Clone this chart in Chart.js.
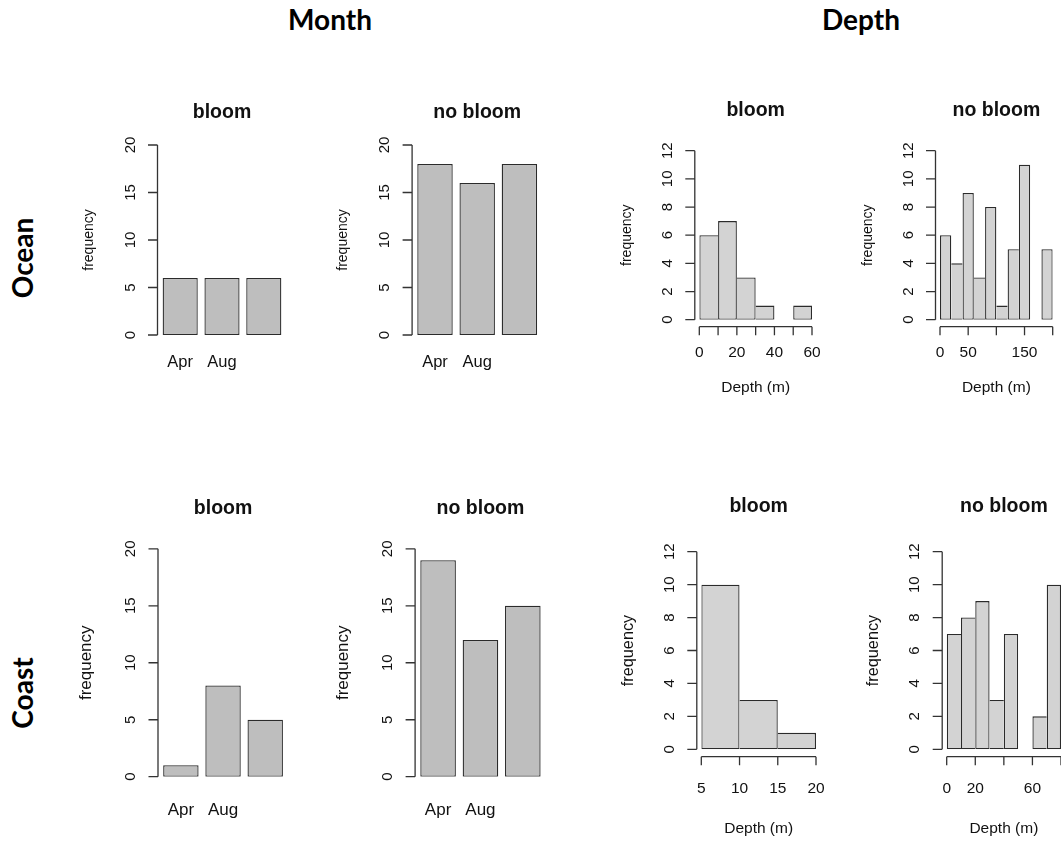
<!DOCTYPE html>
<html>
<head>
<meta charset="utf-8">
<title>bloom frequency by month and depth</title>
<script src="https://cdn.jsdelivr.net/npm/chart.js@4.4.0/dist/chart.umd.min.js"></script>
<style>
    html, body { margin: 0; padding: 0; background: #fff; overflow: hidden; }
    #page { position: relative; width: 1061px; height: 842px; overflow: hidden; }
    #page canvas { position: absolute; left: 0; top: 0; }
    .head { position: absolute; font-family: Lato, "Open Sans", sans-serif; font-weight: 700; font-size: 28px; line-height: 28px; color: #000; white-space: nowrap; }
    .rot { transform: translate(-50%, -50%) rotate(-90deg); }
</style>
</head>
<body>
<div id="page">
    <div class="head" style="left:230px; width:200px; text-align:center; top:5px;">Month</div>
    <div class="head" style="left:761px; width:200px; text-align:center; top:5px;">Depth</div>
    <div class="head rot" style="left:22px; top:258px;">Ocean</div>
    <div class="head rot" style="left:22px; top:693px;">Coast</div>
</div>

<script>
// --- datos ---
const monthLabels = ['Apr', 'Aug', ''];
const monthYTicks = [0, 5, 10, 15, 20];
const depthYTicks = [0, 2, 4, 6, 8, 10, 12];

const oceanBloomMonth = [6, 6, 6];
const oceanNoBloomMonth = [18, 16, 18];
const coastBloomMonth = [1, 8, 5];
const coastNoBloomMonth = [19, 12, 15];

const oceanBloomEdges = [0, 10, 20, 30, 40, 50, 60];
const oceanBloomDepth = [6, 7, 3, 1, 0, 1];
const oceanBloomXTicks = [0, 10, 20, 30, 40, 50, 60];
const oceanBloomXLabels = [0, 20, 40, 60];

const oceanNoBloomEdges = [0, 20, 40, 60, 80, 100, 120, 140, 160, 180, 200];
const oceanNoBloomDepth = [6, 4, 9, 3, 8, 1, 5, 11, 0, 5];
const oceanNoBloomXTicks = [0, 50, 100, 150, 200];
const oceanNoBloomXLabels = [0, 50, 150];

const coastBloomEdges = [5, 10, 15, 20];
const coastBloomDepth = [10, 3, 1];
const coastBloomXTicks = [5, 10, 15, 20];
const coastBloomXLabels = [5, 10, 15, 20];

const coastNoBloomEdges = [0, 10, 20, 30, 40, 50, 60, 70, 80];
const coastNoBloomDepth = [7, 8, 9, 3, 7, 0, 2, 10];
const coastNoBloomXTicks = [0, 20, 40, 60, 80];
const coastNoBloomXLabels = [0, 20, 60];

// --- estilo por fila ---
const rows = {
    ocean: { monthTitle: 118, depthTitle: 116, monthLab: 367, depthTick: 356.7, depthLab: 391.7, xAxisY: 326.7,
             freqMonth: { size: 14, off: 65 }, freqDepth: { size: 14, off: 63.5 }, monthLabSize: 16.5 },
    coast: { monthTitle: 514, depthTitle: 511.7, monthLab: 815, depthTick: 793.3, depthLab: 833.3, xAxisY: 756.7,
             freqMonth: { size: 17, off: 67 }, freqDepth: { size: 16.3, off: 64 }, monthLabSize: 17 }
};

const panels = [
    { row: 'ocean', kind: 'month', title: 'bloom', values: oceanBloomMonth, area: { l: 159.3, r: 284.7, t: 145, b: 335 } },
    { row: 'ocean', kind: 'month', title: 'no bloom', values: oceanNoBloomMonth, area: { l: 413.9, r: 540.5, t: 145, b: 335 } },
    { row: 'ocean', kind: 'depth', title: 'bloom', values: oceanBloomDepth, edges: oceanBloomEdges,
      xTicks: oceanBloomXTicks, xLabels: oceanBloomXLabels, area: { l: 699.3, r: 812, t: 150.7, b: 319.7 } },
    { row: 'ocean', kind: 'depth', title: 'no bloom', values: oceanNoBloomDepth, edges: oceanNoBloomEdges,
      xTicks: oceanNoBloomXTicks, xLabels: oceanNoBloomXLabels, area: { l: 940, r: 1052.7, t: 150.7, b: 319.7 } },
    { row: 'coast', kind: 'month', title: 'bloom', values: coastBloomMonth, area: { l: 159.8, r: 286.3, t: 548.8, b: 776.7 } },
    { row: 'coast', kind: 'month', title: 'no bloom', values: coastNoBloomMonth, area: { l: 416.9, r: 544, t: 548.8, b: 776.7 } },
    { row: 'coast', kind: 'depth', title: 'bloom', values: coastBloomDepth, edges: coastBloomEdges,
      xTicks: coastBloomXTicks, xLabels: coastBloomXLabels, area: { l: 701.3, r: 816, t: 551.7, b: 749.3 } },
    { row: 'coast', kind: 'depth', title: 'no bloom', values: coastNoBloomDepth, edges: coastNoBloomEdges,
      xTicks: coastNoBloomXTicks, xLabels: coastNoBloomXLabels, area: { l: 946.7, r: 1061, t: 551.7, b: 749.3 } }
];

const W = 1061, H = 842;
const FONT = '"Liberation Sans", Arial, sans-serif';
const INK = '#111';
const AXIS = '#333';

// ejes al estilo de R (separados del area de datos, etiquetas verticales)
function rAxes(p) {
    return {
        id: 'rAxes',
        afterDraw(chart) {
            const ctx = chart.ctx;
            const area = chart.chartArea;
            const ys = chart.scales.y;
            const row = rows[p.row];
            const isHist = p.kind === 'depth';
            const yTicks = isHist ? depthYTicks : monthYTicks;
            const ax = area.left - (isHist ? 4.5 : 1.8);
            const freq = isHist ? row.freqDepth : row.freqMonth;

            ctx.save();
            ctx.strokeStyle = AXIS;
            ctx.lineWidth = 1.3;
            ctx.fillStyle = INK;

            // titulo
            ctx.font = 'bold 19.5px ' + FONT;
            ctx.textAlign = 'center';
            ctx.textBaseline = 'alphabetic';
            ctx.fillText(p.title, (area.left + area.right) / 2, isHist ? row.depthTitle : row.monthTitle);

            // eje y
            const yTop = ys.getPixelForValue(yTicks[yTicks.length - 1]);
            const yBot = ys.getPixelForValue(yTicks[0]);
            ctx.beginPath();
            ctx.moveTo(ax, yTop);
            ctx.lineTo(ax, yBot);
            yTicks.forEach(t => {
                const y = ys.getPixelForValue(t);
                ctx.moveTo(ax - 9.5, y);
                ctx.lineTo(ax, y);
            });
            ctx.stroke();

            ctx.font = '15px ' + FONT;
            yTicks.forEach(t => {
                ctx.save();
                ctx.translate(ax - 23, ys.getPixelForValue(t));
                ctx.rotate(-Math.PI / 2);
                ctx.fillText(String(t), 0, 0);
                ctx.restore();
            });

            ctx.save();
            ctx.font = freq.size + 'px ' + FONT;
            ctx.translate(ax - freq.off, (yTop + yBot) / 2);
            ctx.rotate(-Math.PI / 2);
            ctx.fillText('frequency', 0, 0);
            ctx.restore();

            if (isHist) {
                const xs = chart.scales.xv;
                const y0 = row.xAxisY;
                ctx.beginPath();
                ctx.moveTo(xs.getPixelForValue(p.xTicks[0]), y0);
                ctx.lineTo(xs.getPixelForValue(p.xTicks[p.xTicks.length - 1]), y0);
                p.xTicks.forEach(t => {
                    const x = xs.getPixelForValue(t);
                    ctx.moveTo(x, y0);
                    ctx.lineTo(x, y0 + 8.5);
                });
                ctx.stroke();

                ctx.font = '15.5px ' + FONT;
                p.xLabels.forEach(t => {
                    ctx.fillText(String(t), xs.getPixelForValue(t), row.depthTick);
                });
                ctx.fillText('Depth (m)', (area.left + area.right) / 2, row.depthLab);
            } else {
                const xs = chart.scales.x;
                ctx.font = row.monthLabSize + 'px ' + FONT;
                monthLabels.forEach((lab, i) => {
                    if (lab) ctx.fillText(lab, xs.getPixelForValue(i), row.monthLab);
                });
            }
            ctx.restore();
        }
    };
}

function crearPanel(p) {
    const canvas = document.createElement('canvas');
    canvas.width = W;
    canvas.height = H;
    document.getElementById('page').appendChild(canvas);

    const isHist = p.kind === 'depth';
    const v = p.values;
    const last = v.length - 1;
    const bw = 1.3;

    // en histogramas el borde compartido lo dibuja la barra mas alta
    const borde = isHist
        ? (c) => {
            const i = c.dataIndex;
            return {
                top: bw, bottom: bw,
                left: (i === 0 || v[i - 1] <= v[i]) ? bw : 0,
                right: (i === last || v[i + 1] < v[i]) ? bw : 0
            };
        }
        : bw;

    const labels = isHist ? v.map((_, i) => p.edges[i] + '-' + p.edges[i + 1]) : monthLabels;
    const yTicks = isHist ? depthYTicks : monthYTicks;

    const scales = {
        x: { type: 'category', display: false, offset: true },
        y: { type: 'linear', display: false, min: 0, max: yTicks[yTicks.length - 1] }
    };
    if (isHist) {
        scales.xv = { type: 'linear', axis: 'x', position: 'bottom', display: false, offset: false,
                      grid: { offset: false }, bounds: 'data',
                      min: p.edges[0], max: p.edges[p.edges.length - 1] };
    }

    new Chart(canvas, {
        type: 'bar',
        data: {
            labels: labels,
            datasets: [{
                data: v,
                backgroundColor: isHist ? '#d3d3d3' : '#bebebe',
                borderColor: '#2b2b2b',
                borderWidth: borde,
                borderSkipped: false,
                inflateAmount: 0,
                categoryPercentage: 1,
                barPercentage: isHist ? 1 : 0.84
            }]
        },
        options: {
            responsive: false,
            animation: false,
            events: [],
            layout: { padding: { left: p.area.l, right: W - p.area.r, top: p.area.t, bottom: H - p.area.b } },
            plugins: { legend: { display: false }, tooltip: { enabled: false } },
            scales: scales
        },
        plugins: [rAxes(p)]
    });
}

panels.forEach(crearPanel);
</script>
</body>
</html>
